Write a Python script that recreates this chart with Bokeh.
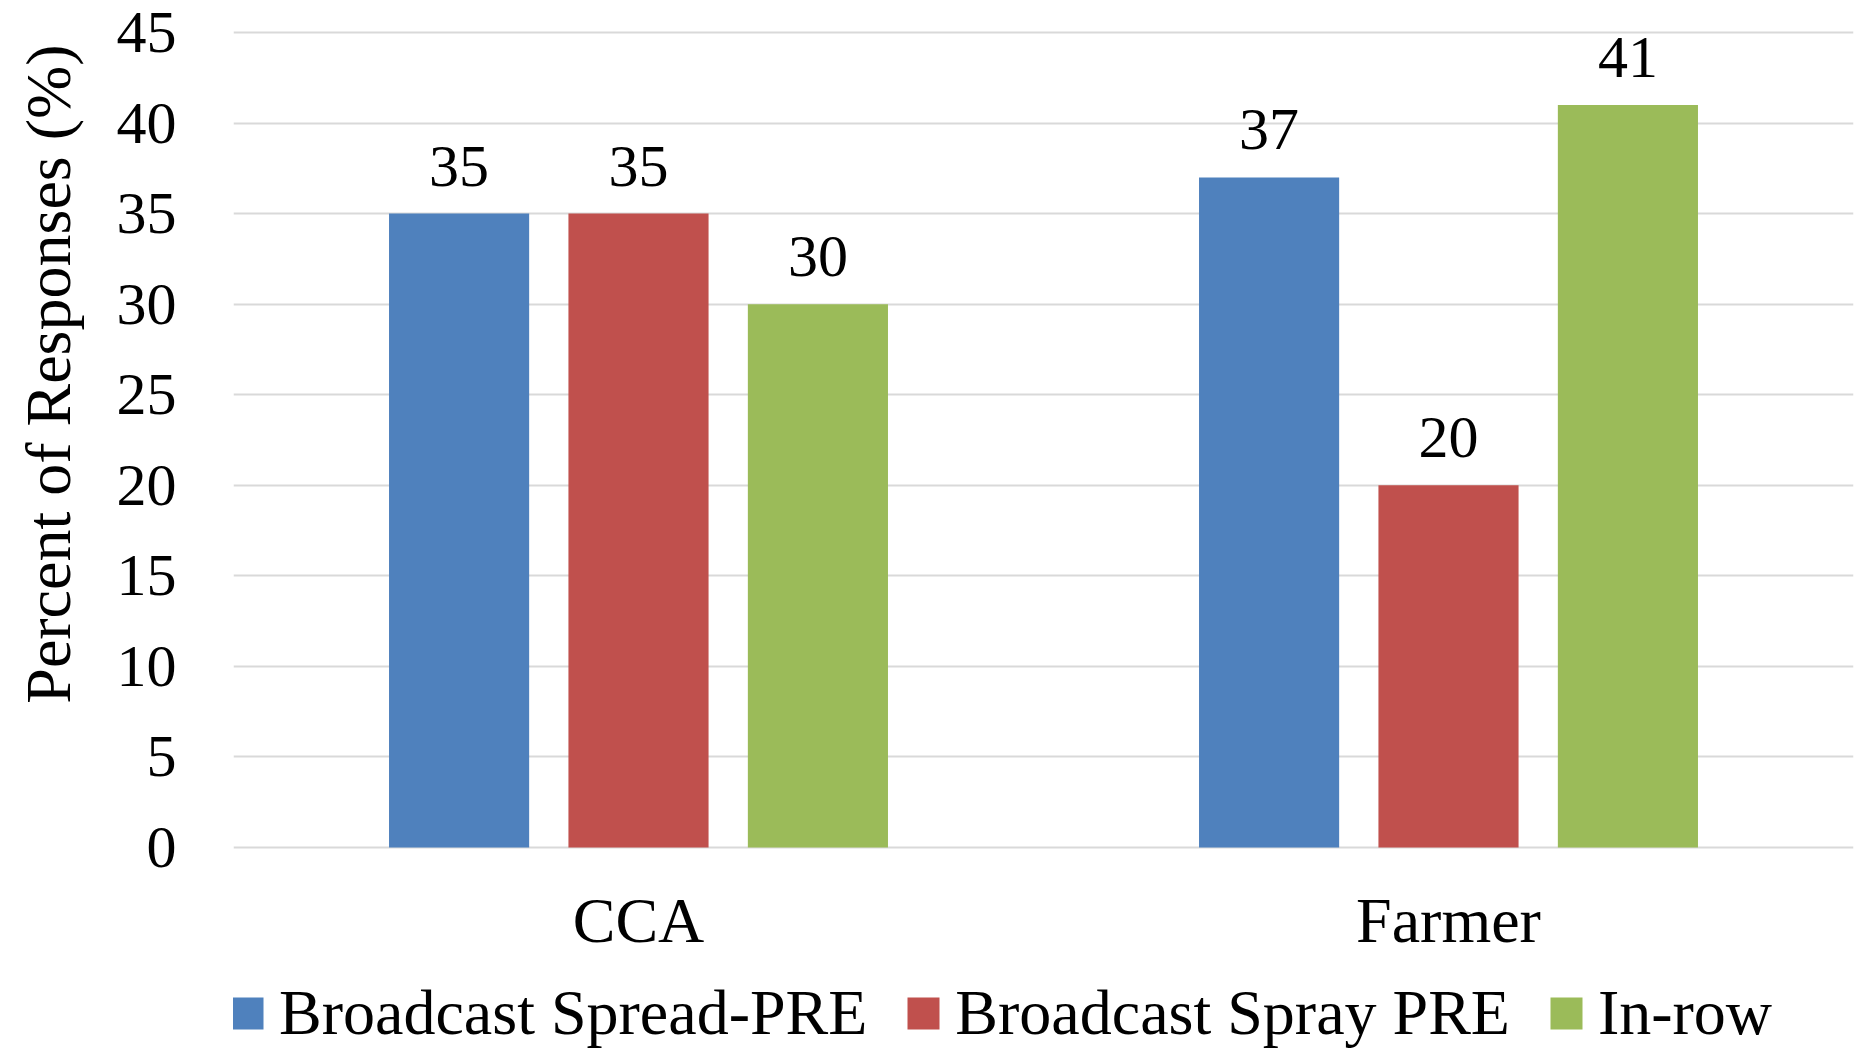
import math
from bokeh.plotting import figure
from bokeh.layouts import row
from bokeh.models import (FactorRange, Range1d, Legend, LegendItem, FixedTicker,
                          ColumnDataSource, LabelSet, Label)
from bokeh.transform import dodge
from bokeh.embed import file_html
from bokeh.resources import INLINE

groups = ["CCA", "Farmer"]
series = ["Broadcast Spread-PRE", "Broadcast Spray PRE", "In-row"]
spread_pre = [35, 37]
spray_pre = [35, 20]
in_row = [30, 41]
colors = ["#4F81BD", "#C0504D", "#9BBB59"]
y_ticks = [0, 5, 10, 15, 20, 25, 30, 35, 40, 45]
y_title = "Percent of Responses (%)"

FONT = "Liberation Serif"
TITLE_W = 100

src = ColumnDataSource(dict(
    group=groups,
    spread=spread_pre,
    spray=spray_pre,
    inrow=in_row,
    spread_t=[str(v) for v in spread_pre],
    spray_t=[str(v) for v in spray_pre],
    inrow_t=[str(v) for v in in_row],
))

# ---- strip holding the vertical axis title ----
tf = figure(width=TITLE_W, height=1050, x_range=Range1d(0, TITLE_W), y_range=Range1d(0, 1050),
            output_backend="svg", toolbar_location=None,
            x_axis_location=None, y_axis_location=None,
            min_border_left=0, min_border_right=0, min_border_top=0, min_border_bottom=0)
tf.outline_line_color = None
tf.grid.grid_line_color = None
tf.add_layout(Label(x=48, y=357, text=y_title, angle=math.pi / 2,
                    text_align="left", text_baseline="alphabetic",
                    text_font=FONT, text_font_size="64px", text_color="black"))

# ---- main chart: frame reaches the canvas bottom, x axis pinned at y = 0 ----
p = figure(
    x_range=FactorRange(*groups), y_range=Range1d(-11.21, 45.11),
    width=1863 - TITLE_W, height=1050, output_backend="svg", toolbar_location=None,
    min_border_left=233 - TITLE_W, min_border_right=10, min_border_top=30, min_border_bottom=0,
)
p.x_range.range_padding = 0
p.outline_line_color = None

offsets = [-0.2215, 0.0, 0.2215]
cols = ["spread", "spray", "inrow"]
renderers = []
for off, col, c in zip(offsets, cols, colors):
    r = p.vbar(x=dodge("group", off, range=p.x_range), top=col, width=0.173,
               source=src, fill_color=c, line_color=None)
    renderers.append(r)
    lbl = LabelSet(x=dodge("group", off, range=p.x_range), y=col, text=col + "_t", source=src,
                   text_align="center", text_baseline="alphabetic", y_offset=28,
                   text_font=FONT, text_font_size="60px", text_color="black")
    p.add_layout(lbl)

p.xgrid.grid_line_color = None
p.ygrid.grid_line_color = "#D9D9D9"
p.ygrid.grid_line_width = 2
p.yaxis.ticker = FixedTicker(ticks=y_ticks)
p.xaxis.fixed_location = 0

for ax in (p.xaxis, p.yaxis):
    ax.axis_line_color = None
    ax.major_tick_line_color = None
    ax.minor_tick_line_color = None
    ax.major_label_text_font = FONT
    ax.major_label_text_color = "black"
p.yaxis.major_label_text_font_size = "60px"
p.yaxis.major_label_standoff = 51
p.xaxis.major_label_text_font_size = "64px"
p.xaxis.major_label_standoff = 32

legend = Legend(
    items=[LegendItem(label=s, renderers=[r]) for s, r in zip(series, renderers)],
    orientation="horizontal", location=(-6, 0),
    label_text_font=FONT, label_text_font_size="64px", label_text_color="black",
    glyph_width=40, glyph_height=40, label_standoff=12, spacing=36,
    padding=0, margin=0, border_line_color=None, background_fill_alpha=0,
)
p.add_layout(legend, "center")

layout = row(tf, p, spacing=0)
open("out.html", "w").write(file_html(layout, INLINE))
